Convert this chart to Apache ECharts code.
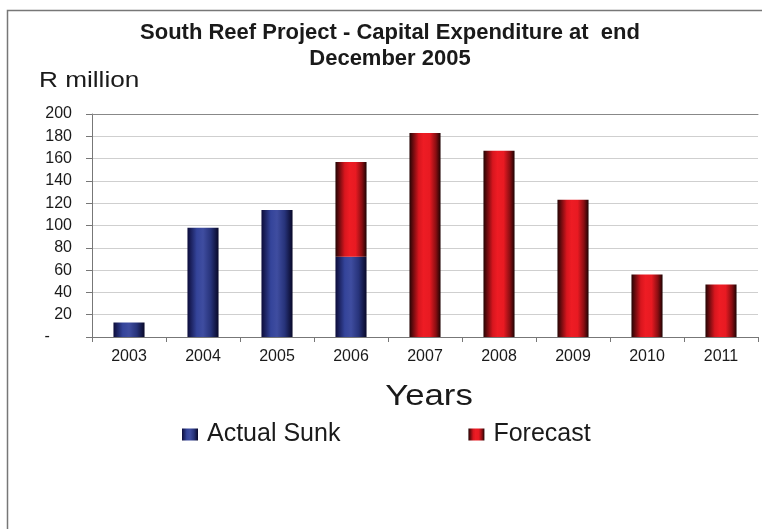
<!DOCTYPE html>
<html>
<head>
<meta charset="utf-8">
<script src="https://cdn.jsdelivr.net/npm/echarts@6/dist/echarts.min.js"></script>
<style>html,body{margin:0;padding:0;background:#fff;}#chart{width:762px;height:529px;}</style>
</head>
<body>
<div id="chart"></div>
<script>
var categories = ['2003','2004','2005','2006','2007','2008','2009','2010','2011'];
var actualSunk = [13, 98, 114, 72, '-', '-', '-', '-', '-'];
var forecast = ['-', '-', '-', 85, 183, 167, 123, 56, 47];
var yTicks = [0, 200, 20];
var titleText = 'South Reef Project - Capital Expenditure at  end\nDecember 2005';
var yName = 'R million';
var xName = 'Years';

var FONT = 'Arial, "Liberation Sans", sans-serif';
var blueGrad = new echarts.graphic.LinearGradient(0, 0, 1, 0, [
  {offset: 0, color: '#0c0c3a'},
  {offset: 0.3, color: '#34449a'},
  {offset: 0.5, color: '#3f4da0'},
  {offset: 0.75, color: '#27337a'},
  {offset: 1, color: '#080828'}
]);
var redGrad = new echarts.graphic.LinearGradient(0, 0, 1, 0, [
  {offset: 0, color: '#240404'},
  {offset: 0.3, color: '#d8161e'},
  {offset: 0.45, color: '#ee1c24'},
  {offset: 0.65, color: '#e81a22'},
  {offset: 0.85, color: '#8a0e12'},
  {offset: 1, color: '#1e0303'}
]);

var chart = echarts.init(document.getElementById('chart'), null, {renderer: 'canvas'});
chart.setOption({
  backgroundColor: '#fff',
  animation: false,
  title: {
    text: titleText,
    left: 390,
    top: 20,
    padding: 0,
    textAlign: 'center',
    textStyle: {fontFamily: FONT, fontWeight: 'bold', fontSize: 22, lineHeight: 26, color: '#1a1a1a'}
  },
  legend: {
    top: 422,
    left: 182,
    padding: 0,
    itemWidth: 16,
    itemHeight: 12,
    itemGap: 128,
    icon: 'rect',
    textStyle: {fontFamily: FONT, fontSize: 25, color: '#1a1a1a', padding: [0, 0, 0, 4]},
    data: ['Actual Sunk', 'Forecast']
  },
  grid: {left: 92, right: 4, top: 114, bottom: 192, containLabel: false},
  xAxis: [{
    type: 'category',
    data: categories,
    axisLine: {lineStyle: {color: '#777', width: 1}},
    axisTick: {show: true, length: 5, lineStyle: {color: '#777'}},
    axisLabel: {fontFamily: FONT, fontSize: 16, color: '#1a1a1a', margin: 12}
  }, {
    type: 'category',
    position: 'top',
    data: categories,
    axisLine: {lineStyle: {color: '#888', width: 1}},
    axisTick: {show: false},
    axisLabel: {show: false}
  }],
  yAxis: {
    type: 'value',
    min: yTicks[0],
    max: yTicks[1],
    interval: yTicks[2],
    axisLine: {show: true, lineStyle: {color: '#777'}},
    axisTick: {show: true, length: 6, lineStyle: {color: '#777'}},
    splitLine: {lineStyle: {color: '#cfcfcf'}},
    axisLabel: {
      fontFamily: FONT, fontSize: 16, color: '#1a1a1a', margin: 20,
      formatter: function (v) { return v === 0 ? '-     ' : String(v); }
    }
  },
  graphic: [
    {type: 'polyline', shape: {points: [[7.5, 529], [7.5, 10.5], [762, 10.5]]}, style: {stroke: '#777', lineWidth: 1.5, fill: null}, silent: true},
    {type: 'text', x: 39, y: 80.5, scaleX: 1.19, style: {text: yName, font: '22px ' + FONT, fill: '#1a1a1a', align: 'left', verticalAlign: 'middle'}, silent: true},
    {type: 'text', x: 429, y: 397, scaleX: 1.18, style: {text: xName, font: '29.5px ' + FONT, fill: '#1a1a1a', align: 'center', verticalAlign: 'middle'}, silent: true}
  ],
  series: [
    {name: 'Actual Sunk', type: 'bar', stack: 'total', data: actualSunk, barWidth: '42%', itemStyle: {color: blueGrad}},
    {name: 'Forecast', type: 'bar', stack: 'total', data: forecast, barWidth: '42%', itemStyle: {color: redGrad}}
  ]
});
</script>
</body>
</html>
